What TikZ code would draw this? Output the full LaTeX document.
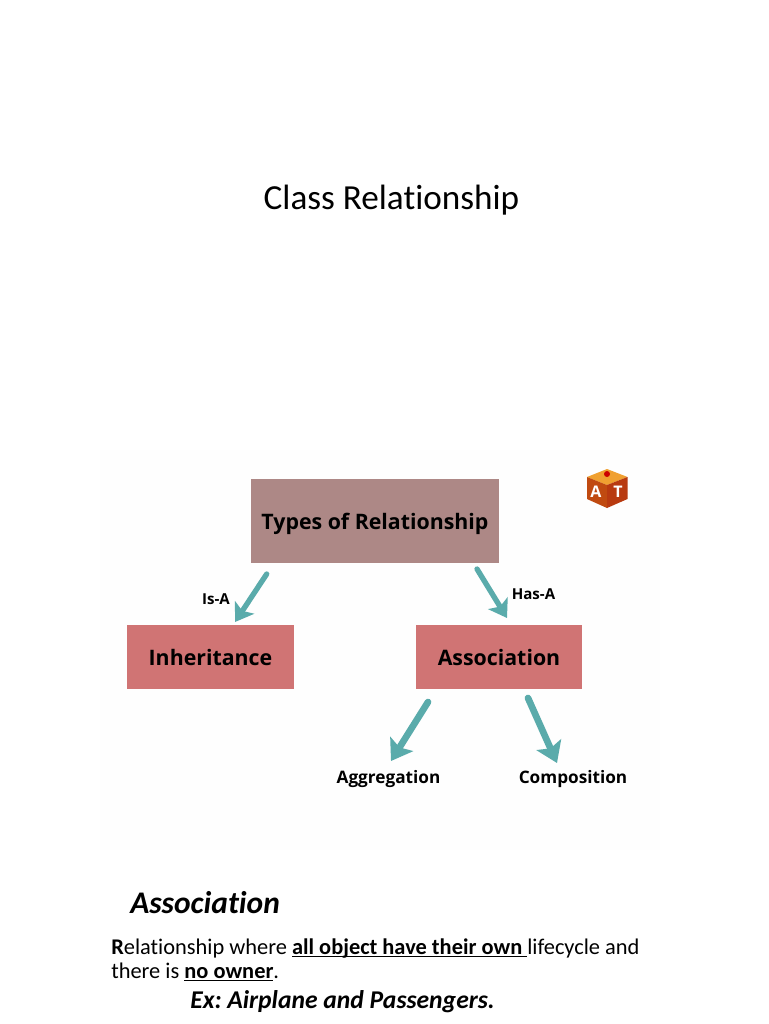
\documentclass[tikz,border=0pt]{standalone}
\usepackage{fontspec}
\setmainfont[Ligatures=CommonOff]{Carlito}
\newfontfamily\diafont{Open Sans}
\usetikzlibrary{arrows.meta}
\definecolor{topbox}{HTML}{AD8886}
\definecolor{pinkbox}{HTML}{D07474}
\definecolor{tealarrow}{HTML}{5AABAB}
\definecolor{cubetop}{HTML}{F0A030}
\definecolor{cubeleft}{HTML}{C04A10}
\definecolor{cuberight}{HTML}{B83A10}
\newcommand{\thickul}[1]{\setbox0=\hbox{#1}\rlap{\rule[-2.6pt]{\wd0}{1.1pt}}\box0}
\tikzset{
  px/.style={x=0.75pt,y=-0.75pt},
  relbox/.style={fill=pinkbox,draw=none,inner sep=0pt,text height=13pt,text depth=0pt,font=\diafont\bfseries\fontsize{16}{18}\selectfont,text=black},
  rellabel/.style={inner sep=0pt,font=\diafont\bfseries\fontsize{11.3}{13}\selectfont,text=black},
  leaflabel/.style={inner sep=0pt,text height=11.5pt,text depth=0pt,font=\diafont\bfseries\fontsize{12.9}{14}\selectfont,text=black},
  thinarrow/.style={draw=tealarrow,line width=4pt,line cap=round,-{Stealth[length=13pt,width=17pt,inset=3pt]}},
  fatarrow/.style={draw=tealarrow,line width=5pt,line cap=round,-{Stealth[length=15pt,width=20pt,inset=3pt]}},
  bodytext/.style={anchor=base west,inner sep=0pt,font=\fontsize{16.8}{18}\selectfont,text=black},
  logoletter/.style={inner sep=0pt,text=white,font=\diafont\bfseries\fontsize{12}{13}\selectfont},
}
\begin{document}
\begin{tikzpicture}[px]
\frenchspacing
\useasboundingbox (0,0) rectangle (768,1024);
\fill[white] (0,0) rectangle (768,1024);
\fill[black!0.5] (100,450) rectangle (660,850);

\node[anchor=base,inner sep=0pt,font=\fontsize{26.4}{30}\selectfont,text=black] (title) at (391.5,209) {Class Relationship};

\node[relbox,fill=topbox,minimum width=186pt,minimum height=63pt] (types) at (375,521) {Types of Relationship};
\node[relbox,minimum width=125pt,minimum height=48pt] (inh) at (210.5,657) {Inheritance};
\node[relbox,minimum width=125pt,minimum height=48pt] (assoc) at (499,657) {Association};
\node[rellabel] (isa) at (216,599) {Is-A};
\node[rellabel] (hasa) at (533.5,594) {Has-A};
\node[leaflabel] (aggr) at (388.5,776) {Aggregation};
\node[leaflabel] (comp) at (573,776) {Composition};

\coordinate (a1) at (266.7,574); \coordinate (a2) at (235,622);
\coordinate (b1) at (477,569);   \coordinate (b2) at (507,618);
\coordinate (c1) at (428,702);   \coordinate (c2) at (391,761);
\coordinate (d1) at (528,698);   \coordinate (d2) at (557,763);
\draw[thinarrow] (a1) -- (a2);
\draw[thinarrow] (b1) -- (b2);
\draw[fatarrow] (c1) -- (c2);
\draw[fatarrow] (d1) -- (d2);

% logo cube
\fill[cubetop] (607,469) -- (627.5,477) -- (607,485) -- (587,477) -- cycle;
\fill[cubeleft] (587,477) -- (607,485) -- (607,508) -- (587,499) -- cycle;
\fill[cuberight] (607,485) -- (627.5,477) -- (627.5,499) -- (607,508) -- cycle;
\fill[red!80!black] (607,474) circle (3);
\node[logoletter] (logoa) at (596,491.5) {A};
\node[logoletter] (logot) at (618,491.5) {T};

\node[anchor=base west,inner sep=0pt,font=\bfseries\itshape\fontsize{23.6}{26}\selectfont,text=black] (h) at (130,913) {Association};
\node[bodytext] (l1) at (111,954) {\textbf{R}elationship where \textbf{\thickul{all object have their own }}lifecycle and};
\node[bodytext] (l2) at (111,978) {there is \textbf{\thickul{no owner}}.};
\node[anchor=base west,inner sep=0pt,font=\bfseries\itshape\fontsize{19.2}{22}\selectfont,text=black] (ex) at (190,1008) {Ex: Airplane and Passengers.};
\end{tikzpicture}
\end{document}
